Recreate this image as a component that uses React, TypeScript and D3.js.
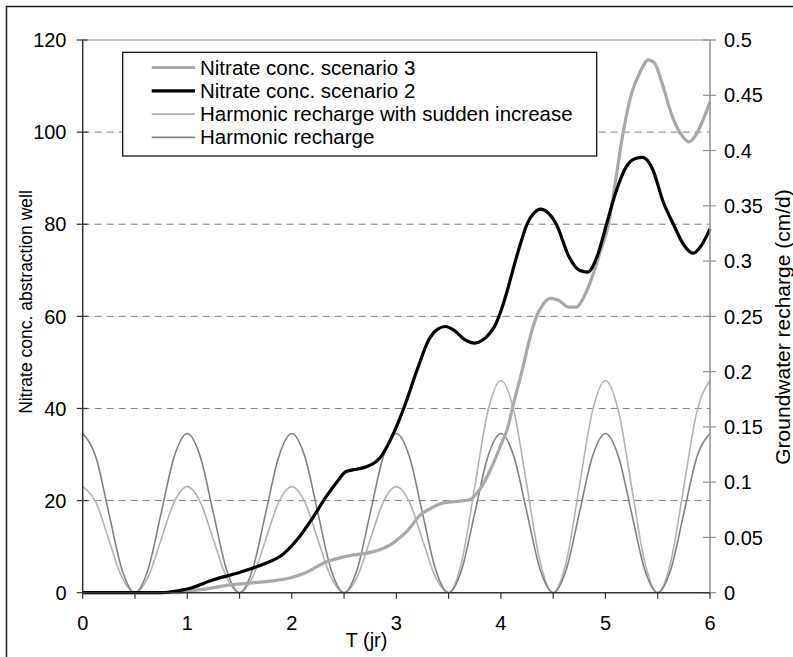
import React from "react";
import * as d3 from "d3";

// ---- data ----
const RECHARGE_T = [
  0, 0.125, 0.25, 0.375, 0.5, 0.625, 0.75, 0.875,
  1, 1.125, 1.25, 1.375, 1.5, 1.625, 1.75, 1.875,
  2, 2.125, 2.25, 2.375, 2.5, 2.625, 2.75, 2.875,
  3, 3.125, 3.25, 3.375, 3.5, 3.625, 3.75, 3.875,
  4, 4.125, 4.25, 4.375, 4.5, 4.625, 4.75, 4.875,
  5, 5.125, 5.25, 5.375, 5.5, 5.625, 5.75, 5.875, 6,
];
const HARMONIC = [
  0.144, 0.123, 0.072, 0.021, 0, 0.021, 0.072, 0.123,
  0.144, 0.123, 0.072, 0.021, 0, 0.021, 0.072, 0.123,
  0.144, 0.123, 0.072, 0.021, 0, 0.021, 0.072, 0.123,
  0.144, 0.123, 0.072, 0.021, 0, 0.021, 0.072, 0.123,
  0.144, 0.123, 0.072, 0.021, 0, 0.021, 0.072, 0.123,
  0.144, 0.123, 0.072, 0.021, 0, 0.021, 0.072, 0.123, 0.144,
];
const HARMONIC_SUDDEN = [
  0.096, 0.082, 0.048, 0.014, 0, 0.014, 0.048, 0.082,
  0.096, 0.082, 0.048, 0.014, 0, 0.014, 0.048, 0.082,
  0.096, 0.082, 0.048, 0.014, 0, 0.014, 0.048, 0.082,
  0.096, 0.082, 0.048, 0.014, 0, 0.028, 0.096, 0.164,
  0.192, 0.164, 0.096, 0.028, 0, 0.028, 0.096, 0.164,
  0.192, 0.164, 0.096, 0.028, 0, 0.028, 0.096, 0.164, 0.192,
];
const NITRATE2_T = [
  0, 0.5, 0.75, 0.93, 1.0, 1.25, 1.5, 1.75, 1.89, 2.05, 2.21, 2.33, 2.43, 2.52,
  2.62, 2.72, 2.84, 3.0, 3.07, 3.21, 3.31, 3.4, 3.47, 3.55, 3.65, 3.75, 3.82,
  3.9, 3.95, 3.99, 4.06, 4.12, 4.19, 4.25, 4.32, 4.38, 4.45, 4.53, 4.65, 4.75, 4.83,
  4.92, 5.01, 5.1, 5.2, 5.28, 5.356, 5.45, 5.55, 5.65, 5.75, 5.84, 5.92, 6.0,
];
const NITRATE2 = [
  0, 0, 0, 0.5, 0.8, 2.8, 4.4, 6.4, 7.9, 11.5, 16.6, 20.9, 24.0, 26.3,
  26.8, 27.4, 29.2, 36, 40, 49.1, 54.9, 57.3, 57.8, 57.0, 55.0, 54.2, 54.8,
  56.5, 58.3, 60.5, 65.5, 70.5, 76, 80, 82.5, 83.3, 82.5, 80, 73, 70, 69.6,
  73, 80, 87, 92.5, 94.2, 94.5, 92, 85, 80, 75.5, 73.7, 75.5, 79,
];
const NITRATE3_T = [
  0, 0.9, 1.0, 1.2, 1.41, 1.7, 1.98, 2.15, 2.3, 2.45, 2.59, 2.72, 2.84, 2.95,
  3.03, 3.1, 3.23, 3.32, 3.45, 3.58, 3.7, 3.8, 3.9, 4.02, 4.06, 4.12, 4.2,
  4.28, 4.34, 4.4, 4.47, 4.55, 4.65, 4.72, 4.8, 4.88, 4.95, 5.03, 5.1, 5.17,
  5.25, 5.33, 5.41, 5.47, 5.55, 5.63, 5.71, 5.8, 5.88, 5.94, 6.0,
];
const NITRATE3 = [
  0, 0, 0.3, 0.9, 1.7, 2.3, 3.2, 4.5, 6.4, 7.5, 8.2, 8.6, 9.3, 10.5,
  11.9, 13.3, 16.9, 18.2, 19.5, 19.8, 20.2, 22.5, 26.7, 33.2, 35.4, 41, 48,
  55.5, 60, 62.5, 63.9, 63.5, 62, 62, 64.5, 69, 74, 80, 90, 100,
  108.4, 113, 115.7, 115, 110, 104, 100, 97.9, 100, 103, 106.6,
];
const LEFT_TICKS = [0, 20, 40, 60, 80, 100, 120];
const RIGHT_TICKS = [0, 0.05, 0.1, 0.15, 0.2, 0.25, 0.3, 0.35, 0.4, 0.45, 0.5];
const RIGHT_TICK_LABELS = ["0", "0.05", "0.1", "0.15", "0.2", "0.25", "0.3", "0.35", "0.4", "0.45", "0.5"];
const X_LABEL_TICKS = [0, 1, 2, 3, 4, 5, 6];
const X_MINOR_TICKS = [0, 0.5, 1, 1.5, 2, 2.5, 3, 3.5, 4, 4.5, 5, 5.5, 6];
const LEGEND_LABELS = [
  "Nitrate conc. scenario 3",
  "Nitrate conc. scenario 2",
  "Harmonic recharge with sudden increase",
  "Harmonic recharge",
];

const FONT = '"Liberation Sans", Arial, sans-serif';

export default function App() {
  const W = 793, H = 657;
  const L = 82.7, R = 710, T = 40, B = 592.7;
  const x = d3.scaleLinear().domain([0, 6]).range([L, R]);
  const yL = d3.scaleLinear().domain([0, 120]).range([B, T]);
  const yR = d3.scaleLinear().domain([0, 0.5]).range([B, T]);

  const lineL = (ts: number[], vs: number[]) =>
    d3.line<number>().x((_, i) => x(ts[i])).y((v) => yL(v)).curve(d3.curveMonotoneX)(vs) || "";
  const lineR = (ts: number[], vs: number[]) =>
    d3.line<number>().x((_, i) => x(ts[i])).y((v) => yR(v)).curve(d3.curveMonotoneX)(vs) || "";

  const series = [
    { label: LEGEND_LABELS[0], color: "#A9A9A9", width: 3.2 },
    { label: LEGEND_LABELS[1], color: "#000000", width: 3.2 },
    { label: LEGEND_LABELS[2], color: "#B3B3B3", width: 1.6 },
    { label: LEGEND_LABELS[3], color: "#808080", width: 1.6 },
  ];

  const legX = 122.7, legY = 52.3, legW = 474, legH = 103.7;
  const rowY = [67.5, 90.8, 114.1, 137.4];

  return (
    <svg width={W} height={H} style={{ position: "absolute", left: 0, top: 0, display: "block" }} fontFamily={FONT}>
      <rect x={0} y={0} width={W} height={H} fill="#fff" />
      <rect x={6.5} y={6.5} width={900} height={900} fill="none" stroke="#222" strokeWidth={1.5} />

      {/* gridlines */}
      {LEFT_TICKS.filter((v) => v > 0 && v < 120).map((v) => (
        <line key={"g" + v} x1={L} x2={R} y1={yL(v)} y2={yL(v)} stroke="#808080" strokeWidth={1} strokeDasharray="7,5" />
      ))}
      <line x1={L} x2={R} y1={T} y2={T} stroke="#909090" strokeWidth={1.2} />

      {/* recharge curves */}
      <path d={lineR(RECHARGE_T, HARMONIC_SUDDEN)} fill="none" stroke={series[2].color} strokeWidth={series[2].width} />
      <path d={lineR(RECHARGE_T, HARMONIC)} fill="none" stroke={series[3].color} strokeWidth={series[3].width} />

      {/* nitrate curves */}
      <path d={lineL(NITRATE3_T, NITRATE3)} fill="none" stroke={series[0].color} strokeWidth={series[0].width} strokeLinejoin="round" />
      <path d={lineL(NITRATE2_T, NITRATE2)} fill="none" stroke={series[1].color} strokeWidth={series[1].width} strokeLinejoin="round" />

      {/* left axis */}
      <line x1={L} x2={L} y1={T} y2={B} stroke="#333" strokeWidth={1.5} />
      {LEFT_TICKS.map((v) => (
        <g key={"lt" + v}>
          <line x1={L - 6} x2={L + 5} y1={yL(v)} y2={yL(v)} stroke="#333" strokeWidth={1.2} />
          <text x={66.5} y={yL(v) + 7.2} fontSize={20} textAnchor="end" fill="#000">{v}</text>
        </g>
      ))}

      {/* right axis */}
      <line x1={R} x2={R} y1={T} y2={B} stroke="#909090" strokeWidth={1.5} />
      {RIGHT_TICKS.map((v, i) => (
        <g key={"rt" + v}>
          <line x1={R - 7} x2={R + 6} y1={yR(v)} y2={yR(v)} stroke="#909090" strokeWidth={1.2} />
          <text x={724} y={yR(v) + 7.2} fontSize={20} textAnchor="start" fill="#000">{RIGHT_TICK_LABELS[i]}</text>
        </g>
      ))}

      {/* bottom axis */}
      <line x1={L} x2={R} y1={B} y2={B} stroke="#333" strokeWidth={1.5} />
      {X_MINOR_TICKS.map((v) => (
        <line key={"bt" + v} x1={x(v)} x2={x(v)} y1={B} y2={B + 6} stroke="#333" strokeWidth={1.2} />
      ))}
      {X_LABEL_TICKS.map((v) => (
        <text key={"bl" + v} x={x(v)} y={630} fontSize={20} textAnchor="middle" fill="#000">{v}</text>
      ))}

      {/* axis titles */}
      <text x={366.5} y={647} fontSize={20} textAnchor="middle" fill="#000">T (jr)</text>
      <text transform="translate(31.5,302) rotate(-90)" fontSize={17.5} textAnchor="middle" fill="#000">
        Nitrate conc. abstraction well
      </text>
      <text transform="translate(790,327) rotate(-90)" fontSize={21} textAnchor="middle" fill="#000">
        Groundwater recharge (cm/d)
      </text>

      {/* legend */}
      <rect x={legX} y={legY} width={legW} height={legH} fill="#fff" stroke="#000" strokeWidth={1.2} />
      {series.map((s, i) => (
        <g key={"lg" + i}>
          <line x1={151.7} x2={195} y1={rowY[i]} y2={rowY[i]} stroke={s.color} strokeWidth={s.width} />
          <text x={200} y={rowY[i] + 7} fontSize={20.5} fill="#000">{s.label}</text>
        </g>
      ))}
    </svg>
  );
}
